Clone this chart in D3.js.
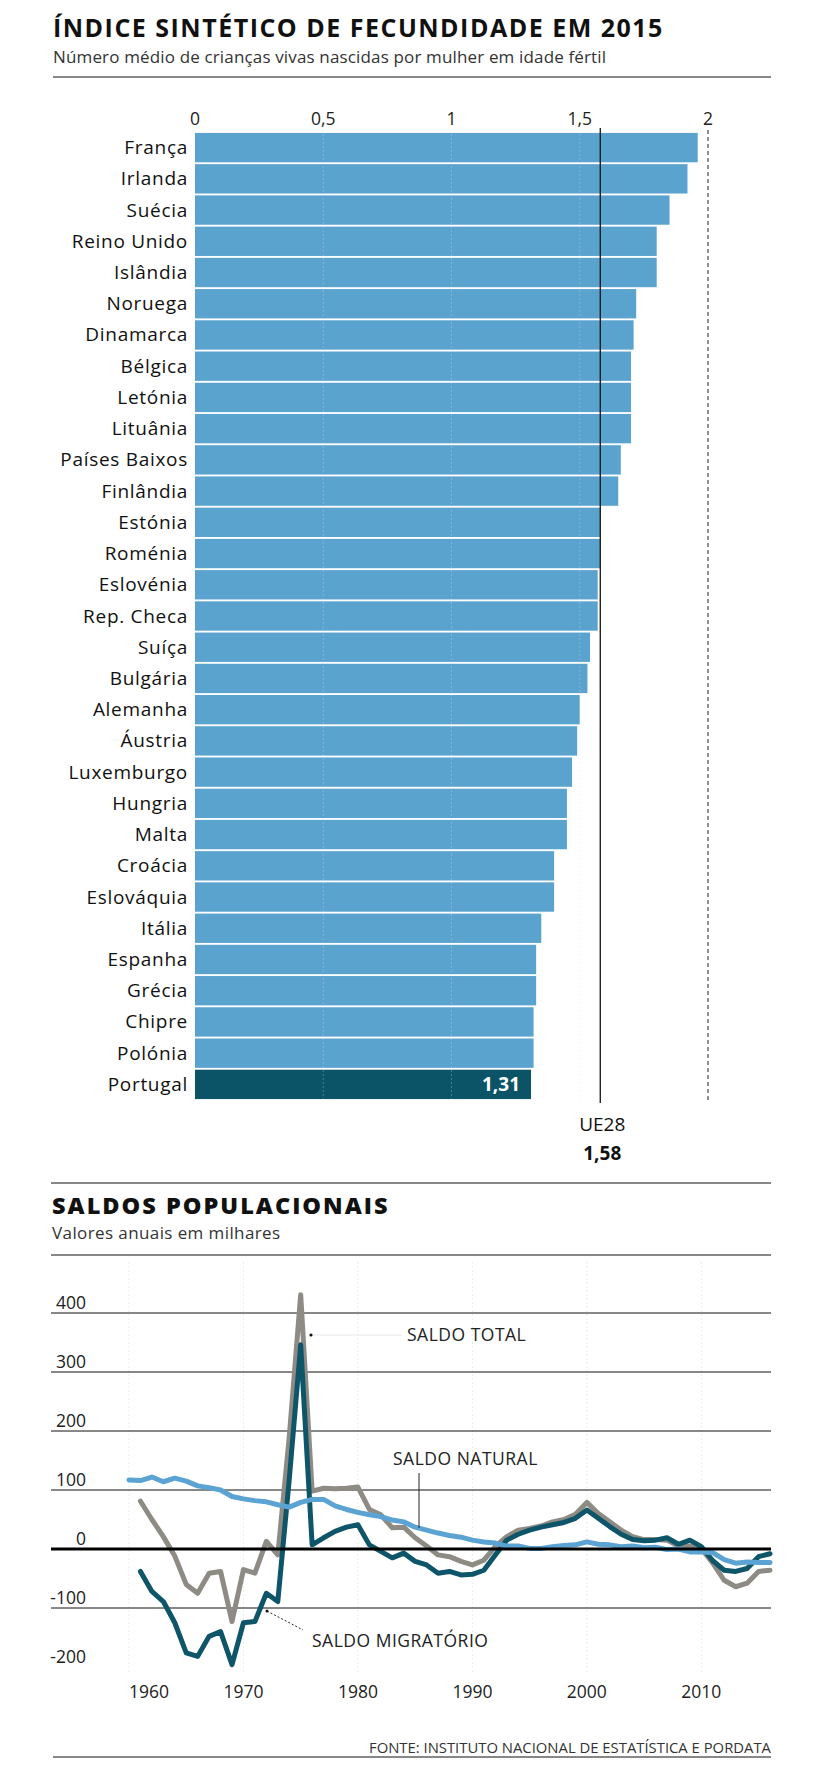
<!DOCTYPE html>
<html><head><meta charset="utf-8">
<script src="https://cdn.jsdelivr.net/npm/d3@7"></script>
<style>
body{margin:0;background:#fff}
svg{display:block}
text{font-family:'Open Sans','Noto Sans',sans-serif}
</style>
</head><body>
<svg id="c" width="839" height="1776"></svg>
<script>
// ---------- DATA ----------
const countries = ["França","Irlanda","Suécia","Reino Unido","Islândia","Noruega","Dinamarca","Bélgica","Letónia","Lituânia","Países Baixos","Finlândia","Estónia","Roménia","Eslovénia","Rep. Checa","Suíça","Bulgária","Alemanha","Áustria","Luxemburgo","Hungria","Malta","Croácia","Eslováquia","Itália","Espanha","Grécia","Chipre","Polónia","Portugal"];
const fertility = [1.96,1.92,1.85,1.80,1.80,1.72,1.71,1.70,1.70,1.70,1.66,1.65,1.58,1.58,1.57,1.57,1.54,1.53,1.50,1.49,1.47,1.45,1.45,1.40,1.40,1.35,1.33,1.33,1.32,1.32,1.31];
const highlightCountry = "Portugal";
const euLabel = "UE28";
const euValue = 1.58;
const barTicks = [0, 0.5, 1, 1.5, 2];
const barTickLabels = ["0", "0,5", "1", "1,5", "2"];

const yearsNatural = [1960,1961,1962,1963,1964,1965,1966,1967,1968,1969,1970,1971,1972,1973,1974,1975,1976,1977,1978,1979,1980,1981,1982,1983,1984,1985,1986,1987,1988,1989,1990,1991,1992,1993,1994,1995,1996,1997,1998,1999,2000,2001,2002,2003,2004,2005,2006,2007,2008,2009,2010,2011,2012,2013,2014,2015,2016];
const saldoNatural = [117,116,122,114,120,115,107,104,100,89,85,82,80,75,71,79,84,84,73,67,62,58,55,49,46,37,32,27,23,20,15,12,10,5,5,1,1,4,6,7,12,8,7,4,5,2,3,-1,0,-5,-5,-6,-18,-24,-22,-23,-23];
const yearsOther = [1961,1962,1963,1964,1965,1966,1967,1968,1969,1970,1971,1972,1973,1974,1975,1976,1977,1978,1979,1980,1981,1982,1983,1984,1985,1986,1987,1988,1989,1990,1991,1992,1993,1994,1995,1996,1997,1998,1999,2000,2001,2002,2003,2004,2005,2006,2007,2008,2009,2010,2011,2012,2013,2014,2015,2016];
const saldoMigratorio = [-38,-72,-89,-125,-176,-182,-148,-140,-196,-125,-123,-75,-89,118,346,7,19,30,37,41,7,-4,-15,-7,-21,-27,-41,-38,-44,-43,-36,-10,15,25,32,37,41,45,52,66,52,38,25,16,14,15,19,8,15,4,-20,-36,-38,-33,-13,-8];
const saldoTotal = [81,50,21,-12,-60,-75,-41,-38,-123,-35,-41,13,-10,190,431,98,103,102,103,105,67,58,36,37,19,5,-10,-13,-21,-27,-19,4,21,32,35,39,46,50,59,79,60,46,32,21,16,16,15,5,5,1,-24,-53,-64,-58,-38,-36];
const yTickValues = [-200,-100,0,100,200,300,400];
const gridValues = [-100,100,200,300,400];
const xTickValues = [1960,1970,1980,1990,2000,2010];

// ---------- STYLES ----------
const C = {bar:"#5ba3cf", highlight:"#0b5467", total:"#8d8b83", migr:"#0e5569", natural:"#5ba3d2", ink:"#1a1a1a"};

const svg = d3.select("#c");

// ---------- CHART 1 ----------
svg.append("text").attr("x",53).attr("y",37).attr("font-size",25).attr("font-weight",700).attr("letter-spacing",1.5).attr("fill","#111")
  .text("ÍNDICE SINTÉTICO DE FECUNDIDADE EM 2015");
svg.append("text").attr("x",53).attr("y",63).attr("font-size",17).attr("letter-spacing",0.15).attr("fill","#333")
  .text("Número médio de crianças vivas nascidas por mulher em idade fértil");
svg.append("line").attr("x1",53).attr("x2",771).attr("y1",77).attr("y2",77).attr("stroke","#111").attr("stroke-width",1.2);

const x = d3.scaleLinear().domain([0,2]).range([195,708]);
const y = d3.scaleBand().domain(countries).range([132,1100]).paddingInner(0.06).paddingOuter(0.03);

const data = countries.map((c,i)=>({c, v:fertility[i]}));

svg.append("g").selectAll("rect").data(data).join("rect")
  .attr("x", x(0)).attr("y", d=>y(d.c)).attr("width", d=>x(d.v)-x(0)).attr("height", y.bandwidth())
  .attr("fill", d=>d.c===highlightCountry?C.highlight:C.bar);

svg.append("g").selectAll("text").data(data).join("text")
  .attr("x",188).attr("y", d=>y(d.c)+y.bandwidth()/2+6.5).attr("text-anchor","end")
  .attr("font-size",19).attr("letter-spacing",0.7).attr("fill","#111").text(d=>d.c);

// tick labels
svg.append("g").selectAll("text").data(barTicks).join("text")
  .attr("x", d=>x(d)).attr("y",125).attr("text-anchor","middle").attr("font-size",17.5).attr("fill","#222")
  .text((d,i)=>barTickLabels[i]);

// faint gridlines
svg.append("g").selectAll("line").data(barTicks.filter(t=>t>0&&t<2)).join("line")
  .attr("x1",d=>x(d)).attr("x2",d=>x(d)).attr("y1",130).attr("y2",1103)
  .attr("stroke","#d9dfe3").attr("stroke-opacity",0.3).attr("stroke-dasharray","2 2");

// dashed 2 line
svg.append("line").attr("x1",x(2)).attr("x2",x(2)).attr("y1",130).attr("y2",1103)
  .attr("stroke","#222").attr("stroke-width",1).attr("stroke-dasharray","4 3");
// EU line
svg.append("line").attr("x1",x(euValue)).attr("x2",x(euValue)).attr("y1",128).attr("y2",1103)
  .attr("stroke","#111").attr("stroke-width",1.3);

// Portugal value label
const pt = data.find(d=>d.c===highlightCountry);
svg.append("text").attr("x",x(pt.v)-11).attr("y",y(pt.c)+y.bandwidth()/2+7).attr("text-anchor","end")
  .attr("font-size",19).attr("font-weight",700).attr("fill","#fff").text(pt.v.toFixed(2).replace(".",","));

svg.append("text").attr("x",x(euValue)+2).attr("y",1131).attr("text-anchor","middle").attr("font-size",19).attr("fill","#111").text(euLabel);
svg.append("text").attr("x",x(euValue)+2).attr("y",1160).attr("text-anchor","middle").attr("font-size",19).attr("font-weight",700).attr("fill","#111")
  .text(euValue.toFixed(2).replace(".",","));

svg.append("line").attr("x1",51).attr("x2",771).attr("y1",1183).attr("y2",1183).attr("stroke","#111").attr("stroke-width",1.2);

// ---------- CHART 2 ----------
svg.append("text").attr("x",52).attr("y",1214).attr("font-size",23.5).attr("font-weight",800).attr("letter-spacing",2).attr("fill","#111")
  .text("SALDOS POPULACIONAIS");
svg.append("text").attr("x",52).attr("y",1239).attr("font-size",17).attr("letter-spacing",0.4).attr("fill","#333").text("Valores anuais em milhares");
svg.append("line").attr("x1",51).attr("x2",771).attr("y1",1255).attr("y2",1255).attr("stroke","#111").attr("stroke-width",1.2);

const lx = d3.scaleLinear().domain([1960,2016]).range([129,770]);
const ly = d3.scaleLinear().domain([0,400]).range([1549,1313]);

// faint vertical lines
svg.append("g").selectAll("line").data(xTickValues).join("line")
  .attr("x1",d=>lx(d)).attr("x2",d=>lx(d)).attr("y1",1262).attr("y2",1672)
  .attr("stroke","#ececec").attr("stroke-dasharray","2 2");

svg.append("g").selectAll("line").data(gridValues).join("line")
  .attr("x1",51).attr("x2",771).attr("y1",d=>ly(d)).attr("y2",d=>ly(d)).attr("stroke","#111").attr("stroke-width",1);

svg.append("g").selectAll("text").data(yTickValues).join("text")
  .attr("x",86).attr("y",d=>ly(d)-4).attr("text-anchor","end").attr("font-size",17.5).attr("fill","#222").text(d=>d);

svg.append("g").selectAll("text").data(xTickValues).join("text")
  .attr("x",d=>lx(d)).attr("y",1698).attr("text-anchor",(d,i)=>i===0?"start":"middle").attr("font-size",17.5).attr("fill","#222").text(d=>d);

const line = d3.line().x(d=>lx(d[0])).y(d=>ly(d[1]));
const mk = (ys,vs)=>ys.map((yr,i)=>[yr,vs[i]]);
const g = svg.append("g").attr("fill","none").attr("stroke-width",5).attr("stroke-linejoin","round").attr("stroke-linecap","round");
g.append("path").attr("d",line(mk(yearsOther,saldoTotal))).attr("stroke",C.total);
g.append("path").attr("d",line(mk(yearsOther,saldoMigratorio))).attr("stroke",C.migr);
g.append("path").attr("d",line(mk(yearsNatural,saldoNatural))).attr("stroke",C.natural);

// zero line
svg.append("line").attr("x1",51).attr("x2",771).attr("y1",ly(0)).attr("y2",ly(0)).attr("stroke","#000").attr("stroke-width",3);

// annotations
svg.append("line").attr("x1",313).attr("x2",402).attr("y1",1335).attr("y2",1335).attr("stroke","#e8e8e8").attr("stroke-width",1);
svg.append("circle").attr("cx",311).attr("cy",1335).attr("r",1.6).attr("fill","#111");
svg.append("text").attr("x",407).attr("y",1341).attr("font-size",17.5).attr("letter-spacing",0.5).attr("fill","#222").text("SALDO TOTAL");

svg.append("text").attr("x",393).attr("y",1465).attr("font-size",17.5).attr("letter-spacing",0.5).attr("fill","#222").text("SALDO NATURAL");
svg.append("line").attr("x1",419).attr("x2",419).attr("y1",1473).attr("y2",1528).attr("stroke","#222").attr("stroke-width",1);

svg.append("circle").attr("cx",267).attr("cy",1611).attr("r",1.5).attr("fill","#111");
svg.append("line").attr("x1",267).attr("x2",303).attr("y1",1611).attr("y2",1630).attr("stroke","#222").attr("stroke-width",1).attr("stroke-dasharray","2 2");
svg.append("text").attr("x",312).attr("y",1647).attr("font-size",17.5).attr("letter-spacing",0.5).attr("fill","#222").text("SALDO MIGRATÓRIO");

svg.append("text").attr("x",771).attr("y",1753).attr("text-anchor","end").attr("font-size",15).attr("fill","#333")
  .attr("textLength",402).attr("lengthAdjust","spacingAndGlyphs")
  .text("FONTE: INSTITUTO NACIONAL DE ESTATÍSTICA E PORDATA");
svg.append("line").attr("x1",53).attr("x2",771).attr("y1",1757).attr("y2",1757).attr("stroke","#111").attr("stroke-width",1.2);
</script>
</body></html>
